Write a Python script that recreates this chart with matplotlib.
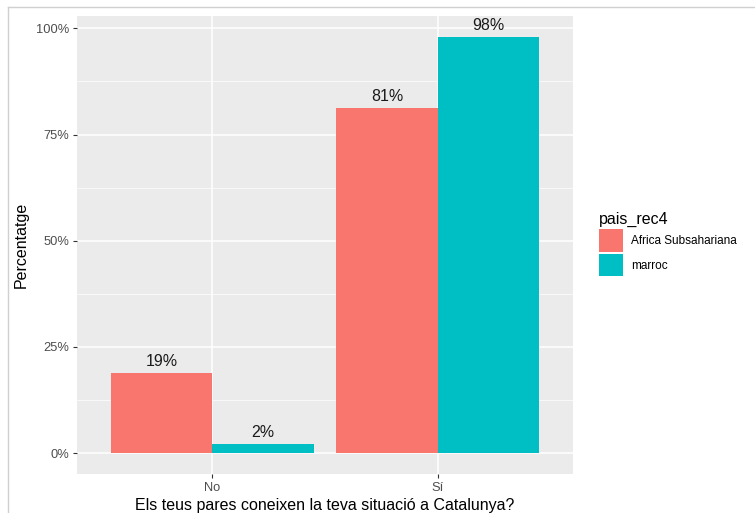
import matplotlib.pyplot as plt
import numpy as np
from matplotlib.patches import Patch
from matplotlib.lines import Line2D
from matplotlib.ticker import MultipleLocator, FuncFormatter

plt.rcParams['font.family'] = ['Liberation Sans', 'DejaVu Sans']

categories = ['No', 'Sí']
groups = ['Africa Subsahariana', 'marroc']
africa = [18.8, 81.2]
marroc = [2.1, 97.9]
labels_africa = ['19%', '81%']
labels_marroc = ['2%', '98%']
colors = ['#F8766D', '#00BFC4']

W, H = 755, 513
fig = plt.figure(figsize=(W / 100, H / 100), dpi=100)

# panel in pixel coords
left, right, top, bottom = 77, 573, 16, 474
ax = fig.add_axes([left / W, 1 - bottom / H, (right - left) / W, (bottom - top) / H])
ax.set_facecolor('#EBEBEB')

x = np.arange(1, len(categories) + 1)
bw = 0.45
series = [africa, marroc]
labs = [labels_africa, labels_marroc]
for i, (vals, lab) in enumerate(zip(series, labs)):
    xs = x + (i - 0.5) * bw
    ax.bar(xs, vals, width=bw, color=colors[i], zorder=3)
    for xx, v, t in zip(xs, vals, lab):
        ax.text(xx, v + 1.0, t, ha='center', va='bottom', fontsize=11.5,
                color='#1A1A1A', zorder=4)

ax.set_xlim(0.4, 2.6)
ax.set_ylim(-4.9, 102.9)
ax.yaxis.set_major_locator(MultipleLocator(25))
ax.yaxis.set_minor_locator(MultipleLocator(12.5))
ax.yaxis.set_major_formatter(FuncFormatter(lambda v, p: f'{int(v)}%'))
ax.set_xticks(x)
ax.set_xticklabels(categories)

ax.grid(which='major', color='white', linewidth=1.1, zorder=0)
ax.grid(which='minor', axis='y', color='white', linewidth=0.5, zorder=0)
ax.set_axisbelow(True)
for s in ax.spines.values():
    s.set_visible(False)
ax.tick_params(which='major', length=3, color='#333333', labelcolor='#4D4D4D',
               labelsize=9.3, pad=2.5)
ax.tick_params(which='minor', length=0)

ax.set_ylabel('Percentatge', fontsize=11.5, color='black', labelpad=5)
ax.set_xlabel('Els teus pares coneixen la teva situació a Catalunya?', fontsize=11.5,
              color='black', labelpad=3)

handles = [Patch(facecolor=c, edgecolor='none') for c in colors]
leg = fig.legend(handles, groups, title='pais_rec4', loc='upper left',
                 bbox_to_anchor=(599 / W, 1 - 212 / H), frameon=False,
                 fontsize=8.5, title_fontsize=11.5, handlelength=2.05,
                 handleheight=2.6, labelspacing=0.15, handletextpad=0.7,
                 borderaxespad=0, borderpad=0)
leg._legend_box.align = 'left'

# thin frame around the image
fig.add_artist(Line2D([8 / W, 8 / W], [0, 1 - 7 / H], color='#D0D0D0', lw=1))
fig.add_artist(Line2D([8 / W, 1], [1 - 7 / H, 1 - 7 / H], color='#D0D0D0', lw=1))

fig.savefig('out.png', dpi=100)
